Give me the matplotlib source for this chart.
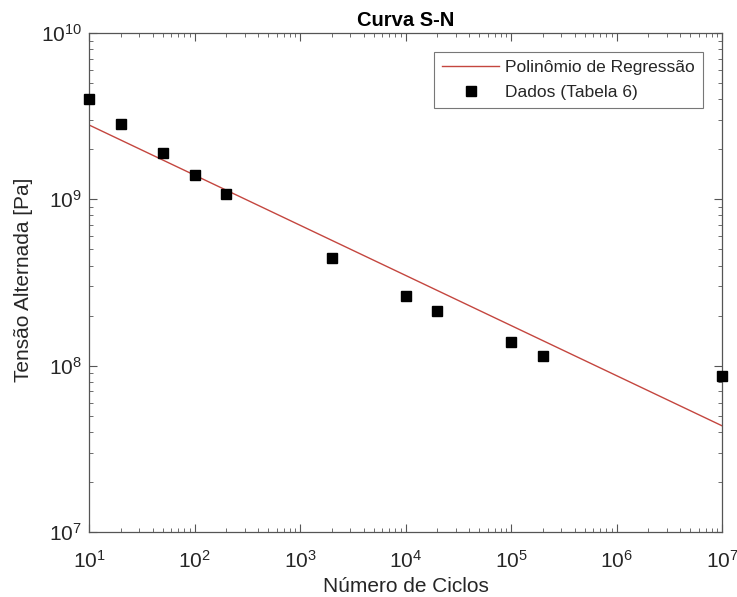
import numpy as np
import matplotlib.pyplot as plt
from matplotlib.ticker import LogLocator, NullFormatter

# --- dados ---
ciclos = [10, 20, 50, 100, 200, 2000, 1e4, 2e4, 1e5, 2e5, 1e7]
tensao = [4.0e9, 2.83e9, 1.89e9, 1.41e9, 1.07e9, 4.45e8, 2.63e8, 2.14e8, 1.38e8, 1.14e8, 8.65e7]

# reta de regressão (extremos)
reg_x = [10, 1e7]
reg_y = [2.8e9, 4.35e7]

plt.rcParams["font.family"] = ["Liberation Sans", "DejaVu Sans"]
txt = "#262626"
spine = "#555555"

fig = plt.figure(figsize=(7.37, 5.97), dpi=100)
ax = fig.add_axes([0.1208, 0.1089, 0.8589, 0.8358])

ax.plot(reg_x, reg_y, color="#c4463f", linewidth=1.0, label="Polinômio de Regressão")
ax.plot(ciclos, tensao, "s", color="black", markersize=6.5, linestyle="none",
        label="Dados (Tabela 6)", clip_on=False, zorder=5)

ax.set_xscale("log")
ax.set_yscale("log")
ax.set_xlim(10, 1e7)
ax.set_ylim(1e7, 1e10)

ax.set_xticks([10.0 ** k for k in range(1, 8)])
ax.set_yticks([10.0 ** k for k in range(7, 11)])
ax.xaxis.set_minor_locator(LogLocator(base=10, subs=np.arange(2, 10), numticks=20))
ax.yaxis.set_minor_locator(LogLocator(base=10, subs=np.arange(2, 10), numticks=20))
ax.xaxis.set_minor_formatter(NullFormatter())
ax.yaxis.set_minor_formatter(NullFormatter())

ax.tick_params(which="both", direction="in", top=True, right=True, colors=spine,
               labelcolor=txt, labelsize=15)
ax.tick_params(which="major", length=6, width=0.8)
ax.tick_params(which="minor", length=3, width=0.6)
ax.tick_params(axis="x", which="major", pad=13)
ax.tick_params(axis="y", which="major", pad=5)
for s in ax.spines.values():
    s.set_color(spine)
    s.set_linewidth(0.9)

ax.set_title("Curva S-N", fontsize=14.5, fontweight="bold", color="black", pad=5)
ax.set_xlabel("Número de Ciclos", fontsize=15, color=txt, labelpad=4)
ax.set_ylabel("Tensão Alternada [Pa]", fontsize=15, color=txt)
ax.yaxis.set_label_coords(-0.088, 0.505)

leg = ax.legend(loc="upper right", fontsize=12.5, frameon=True, fancybox=False,
                edgecolor=spine, borderaxespad=1.1, handlelength=3.3,
                handletextpad=0.35, labelspacing=0.55, borderpad=0.45)
leg.get_frame().set_linewidth(0.8)
for t in leg.get_texts():
    t.set_color(txt)

fig.savefig("out.png", dpi=100)
